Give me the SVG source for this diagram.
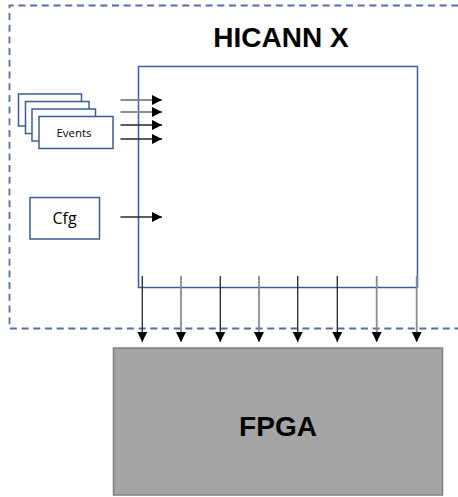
<svg xmlns="http://www.w3.org/2000/svg" width="458" height="497" viewBox="0 0 458 497">
<defs>
<style>
.box{fill:#fff;stroke:#3A5C9A;stroke-width:1.5}
.dash{fill:none;stroke:#4F6FA6;stroke-width:1.8;stroke-dasharray:7 4.7}
.dk{stroke:#262626;stroke-width:1.3;fill:none}
.gy{stroke:#8C8C8C;stroke-width:1.8;fill:none}
.t{font-family:"Open Sans","Liberation Sans",sans-serif;fill:#000}
.tb{font-family:"Liberation Sans",Arial,sans-serif;font-weight:bold;fill:#000}
</style>
<marker id="ah" viewBox="0 0 10 10" refX="10" refY="5" markerWidth="10" markerHeight="10" markerUnits="userSpaceOnUse" orient="auto">
<path d="M0,0 L10,5 L0,10 Z" fill="#000"/>
</marker>
</defs>
<path class="dash" d="M470,5.5 H9.5 V328.5 H470"/>
<text class="tb" x="281" y="47" font-size="28" text-anchor="middle">HICANN X</text>
<g id="hicann"><rect class="box" x="138.5" y="66.5" width="279" height="221"/></g>
<g id="events">
<rect class="box" x="18.5" y="94" width="63" height="32"/>
<rect class="box" x="25.5" y="101.5" width="63.5" height="32"/>
<rect class="box" x="32" y="109" width="63.5" height="32"/>
<rect class="box" x="39" y="116.5" width="74" height="32"/>
<text class="t" x="74" y="137" font-size="11.5" text-anchor="middle">Events</text>
</g>
<g id="cfg">
<rect class="box" x="30" y="197.5" width="69.5" height="41.5"/>
<text class="t" x="64.5" y="224" font-size="16" text-anchor="middle">Cfg</text>
</g>
<g id="fpga">
<rect x="113.5" y="348" width="329" height="147" fill="#A5A5A5" stroke="#7F7F7F" stroke-width="1.5"/>
<text class="tb" x="278" y="436" font-size="28" text-anchor="middle">FPGA</text>
</g>
<g id="connectors">
<line class="gy" x1="120.5" y1="100" x2="162" y2="100" marker-end="url(#ah)"/>
<line class="gy" x1="120.5" y1="112" x2="162" y2="112" marker-end="url(#ah)"/>
<line class="dk" x1="120.5" y1="125" x2="162" y2="125" marker-end="url(#ah)"/>
<line class="dk" x1="120.5" y1="139" x2="162" y2="139" marker-end="url(#ah)"/>
<line class="dk" x1="120.5" y1="217" x2="162" y2="217" marker-end="url(#ah)"/>
<line class="dk" x1="142.3" y1="276" x2="142.3" y2="342" marker-end="url(#ah)"/>
<line class="gy" x1="181" y1="276" x2="181" y2="342" marker-end="url(#ah)"/>
<line class="dk" x1="220.3" y1="276" x2="220.3" y2="342" marker-end="url(#ah)"/>
<line class="gy" x1="259" y1="276" x2="259" y2="342" marker-end="url(#ah)"/>
<line class="dk" x1="297.7" y1="276" x2="297.7" y2="342" marker-end="url(#ah)"/>
<line class="dk" x1="337.3" y1="276" x2="337.3" y2="342" marker-end="url(#ah)"/>
<line class="gy" x1="376.7" y1="276" x2="376.7" y2="342" marker-end="url(#ah)"/>
<line class="gy" x1="416.7" y1="276" x2="416.7" y2="342" marker-end="url(#ah)"/>
</g>
</svg>
